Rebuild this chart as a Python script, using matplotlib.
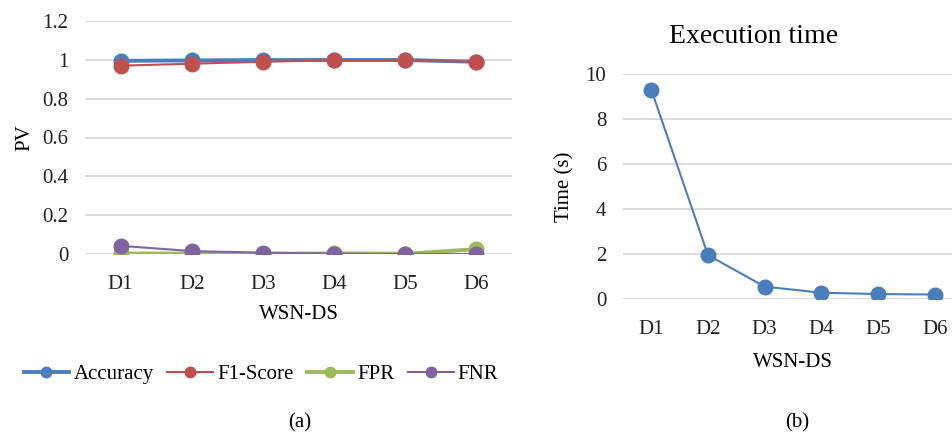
import numpy as np
import matplotlib.pyplot as plt

plt.rcParams['font.family'] = ['Liberation Serif', 'DejaVu Serif']

datasets = ["D1", "D2", "D3", "D4", "D5", "D6"]
accuracy = [0.995, 0.997, 0.999, 0.999, 0.999, 0.990]
f1_score = [0.970, 0.980, 0.990, 0.998, 0.998, 0.990]
fpr = [0.003, 0.002, 0.001, 0.003, 0.001, 0.025]
fnr = [0.042, 0.015, 0.007, 0.002, 0.000, 0.000]
exec_time = [9.3, 1.95, 0.55, 0.28, 0.22, 0.20]

blue = '#4a7ebb'
red = '#c0504d'
green = '#9bbb59'
purple = '#8064a2'
grid_col = '#d9d9d9'

W, H = 953, 438
fig = plt.figure(figsize=(W / 100, H / 100), dpi=100)

def px(x0, y0, x1, y1):
    return [x0 / W, 1 - y1 / H, (x1 - x0) / W, (y1 - y0) / H]

x = np.arange(len(datasets))

# (a) performance values
ax1 = fig.add_axes(px(85, 21, 512, 254))
series = [(accuracy, "Accuracy", blue, 2.8),
          (f1_score, "F1-Score", red, 1.5),
          (fpr, "FPR", green, 2.8),
          (fnr, "FNR", purple, 1.5)]
for vals, name, col, lw in series:
    ax1.plot(x, vals, color=col, lw=lw, marker='o', ms=10.5, label=name, zorder=3)
ax1.set_xlim(-0.5, 5.5)
ax1.set_ylim(0, 1.2)
ax1.set_yticks([0, 0.2, 0.4, 0.6, 0.8, 1, 1.2])
ax1.set_yticklabels(['0', '0.2', '0.4', '0.6', '0.8', '1', '1.2'])
ax1.set_xticks(x)
ax1.set_xticklabels(datasets)
ax1.set_ylabel("PV", fontsize=15, labelpad=6)
ax1.set_xlabel("WSN-DS", fontsize=15, labelpad=8)

# (b) execution time
ax2 = fig.add_axes(px(623, 74, 963, 299))
ax2.plot(x, exec_time, color=blue, lw=1.5, marker='o', ms=10.5, zorder=3)
ax2.set_xlim(-0.5, 5.5)
ax2.set_ylim(0, 10)
ax2.set_yticks([0, 2, 4, 6, 8, 10])
ax2.set_xticks(x)
ax2.set_xticklabels(datasets)
ax2.set_ylabel("Time (s)", fontsize=15, labelpad=8)
ax2.set_xlabel("WSN-DS", fontsize=15, labelpad=10)
ax2.set_title("Execution time", fontsize=20, pad=22, x=0.385)

for ax in (ax1, ax2):
    for s in ax.spines.values():
        s.set_visible(False)
    ax.grid(axis='y', color=grid_col, lw=1.3)
    ax.set_axisbelow(True)
    ax.tick_params(length=0, labelsize=15, colors='#222222')
    ax.xaxis.set_tick_params(pad=15)
    ax.yaxis.set_tick_params(pad=12)

fig.legend(loc='center', bbox_to_anchor=(261 / W, 1 - 374 / H), ncol=4,
           frameon=False, fontsize=15, handlelength=2.2, handletextpad=0.2,
           columnspacing=0.65, markerscale=0.72)

fig.text(300 / W, 1 - 423 / H, "(a)", ha='center', va='center', fontsize=15)
fig.text(797 / W, 1 - 423 / H, "(b)", ha='center', va='center', fontsize=15)

fig.savefig("out.png", dpi=100)
